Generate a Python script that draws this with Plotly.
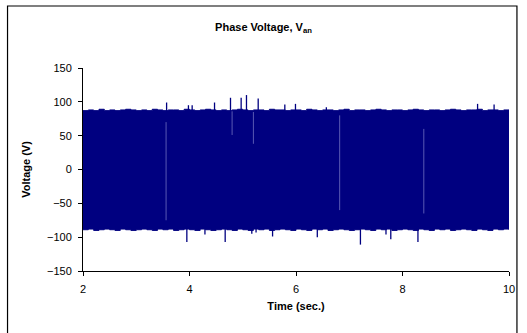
import plotly.graph_objects as go

# Envelope of the PWM phase voltage, sampled every 0.1 s from 2 to 10 s
env_time = [2.0, 2.1, 2.2, 2.3, 2.4, 2.5, 2.6, 2.7, 2.8, 2.9,
            3.0, 3.1, 3.2, 3.3, 3.4, 3.5, 3.6, 3.7, 3.8, 3.9,
            4.0, 4.1, 4.2, 4.3, 4.4, 4.5, 4.6, 4.7, 4.8, 4.9,
            5.0, 5.1, 5.2, 5.3, 5.4, 5.5, 5.6, 5.7, 5.8, 5.9,
            6.0, 6.1, 6.2, 6.3, 6.4, 6.5, 6.6, 6.7, 6.8, 6.9,
            7.0, 7.1, 7.2, 7.3, 7.4, 7.5, 7.6, 7.7, 7.8, 7.9,
            8.0, 8.1, 8.2, 8.3, 8.4, 8.5, 8.6, 8.7, 8.8, 8.9,
            9.0, 9.1, 9.2, 9.3, 9.4, 9.5, 9.6, 9.7, 9.8, 9.9, 10.0]
upper_env = [87, 88, 87, 89, 87, 88, 87, 88, 89, 88,
             87, 88, 87, 89, 88, 87, 88, 88, 87, 89,
             88, 87, 88, 89, 88, 87, 88, 87, 88, 89,
             88, 87, 88, 88, 87, 89, 88, 88, 87, 88,
             88, 87, 89, 88, 87, 88, 88, 87, 88, 89,
             87, 88, 88, 87, 88, 89, 88, 87, 88, 88,
             87, 88, 89, 88, 87, 88, 88, 87, 88, 89,
             88, 87, 88, 88, 89, 87, 88, 88, 87, 88, 87]
lower_env = [-89, -88, -90, -89, -88, -89, -90, -88, -89, -90,
             -89, -88, -89, -90, -88, -89, -88, -90, -89, -88,
             -89, -90, -88, -89, -90, -89, -88, -89, -90, -88,
             -89, -90, -88, -89, -88, -90, -89, -88, -89, -90,
             -88, -89, -90, -88, -89, -88, -90, -89, -88, -89,
             -90, -89, -88, -89, -90, -88, -89, -88, -90, -89,
             -88, -89, -90, -88, -89, -90, -88, -89, -88, -90,
             -89, -88, -89, -90, -88, -89, -90, -88, -89, -88, -89]

# Isolated voltage spikes beyond the envelope
spike_time = [3.57, 3.98, 4.05, 4.47, 4.77, 4.97, 5.07, 5.29, 5.79, 5.99, 6.57, 9.41, 9.72,
              3.95, 4.29, 4.67, 5.17, 5.25, 5.56, 6.40, 7.21, 7.69, 7.78, 8.29]
spike_value = [99, 95, 95, 99, 106, 106, 110, 105, 96, 97, 92, 97, 96,
               -107, -96, -107, -95, -93, -99, -100, -111, -96, -103, -107]

# Short switching gaps inside the band
gap_time = [3.56, 4.80, 5.20, 6.82, 8.40]
gap_top = [70, 86, 85, 80, 60]
gap_bottom = [-75, 51, 38, -60, -65]

NAVY = "#000080"

fig = go.Figure()
fig.add_trace(go.Scatter(x=env_time, y=lower_env, mode="lines", line=dict(color=NAVY, width=1, shape="hv"),
                         hoverinfo="skip", showlegend=False))
fig.add_trace(go.Scatter(x=env_time, y=upper_env, mode="lines", line=dict(color=NAVY, width=1, shape="hv"),
                         fill="tonexty", fillcolor=NAVY, showlegend=False))

sx, sy = [], []
for t, v in zip(spike_time, spike_value):
    sx += [t, t, None]
    sy += [0, v, None]
fig.add_trace(go.Scatter(x=sx, y=sy, mode="lines", line=dict(color=NAVY, width=1.3), showlegend=False))

gx, gy = [], []
for t, a, b in zip(gap_time, gap_top, gap_bottom):
    gx += [t, t, None]
    gy += [a, b, None]
fig.add_trace(go.Scatter(x=gx, y=gy, mode="lines", line=dict(color="#7070c0", width=0.8),
                         showlegend=False))

L, R, T, B = 83, 15, 68, 62
W, H = 527, 333
pw, ph = W - L - R, H - T - B

fig.update_layout(
    width=W, height=H,
    margin=dict(l=L, r=R, t=T, b=B),
    paper_bgcolor="white", plot_bgcolor="white",
    font=dict(family="Liberation Sans, Arial, sans-serif", size=11, color="black"),
    title=dict(text="<b>Phase Voltage, V<sub>an</sub></b>", x=0.5, xref="container",
               y=1 - 27 / H, yref="container", xanchor="center", yanchor="middle",
               font=dict(size=11)),
    xaxis=dict(range=[2, 10], tickvals=[2, 4, 6, 8, 10], showline=True, linecolor="black", linewidth=1,
               ticks="outside", ticklen=4, tickcolor="black", showgrid=False, zeroline=False,
               title=dict(text="<b>Time (sec.)</b>", standoff=8, font=dict(size=11)),
               ticklabelstandoff=4),
    yaxis=dict(range=[-150, 150], tickvals=[-150, -100, -50, 0, 50, 100, 150], showline=True,
               linecolor="black", linewidth=1, ticks="outside", ticklen=4, tickcolor="black",
               showgrid=False, zeroline=False,
               title=dict(text="<b>Voltage (V)</b>", standoff=14, font=dict(size=11)),
               ticklabelstandoff=4),
    shapes=[dict(type="rect", xref="paper", yref="paper",
                 x0=(7 - L) / pw, x1=(520 - L) / pw, y0=-(340 - (H - B)) / ph,
                 y1=(H - B - 6) / ph, line=dict(color="black", width=1.2), fillcolor="rgba(0,0,0,0)",
                 layer="below")],
)

fig.write_html("out.html")
